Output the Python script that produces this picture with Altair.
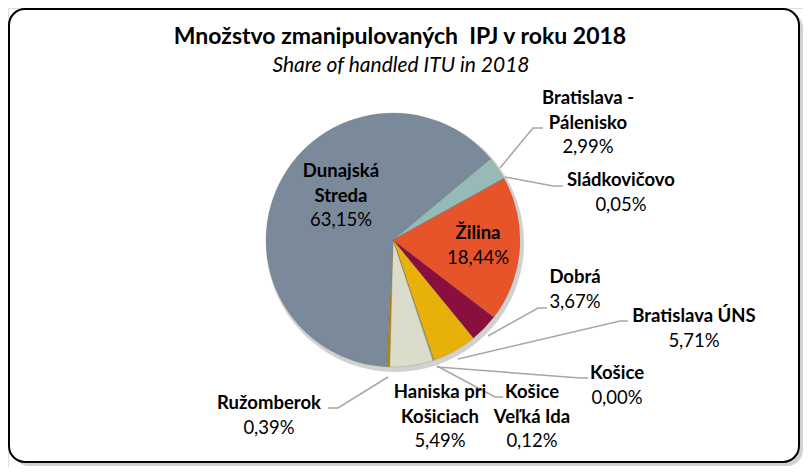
import math
import altair as alt
import pandas as pd

# ---- data ----
names = ["Bratislava - Pálenisko", "Sládkovičovo", "Žilina", "Dobrá", "Bratislava ÚNS",
         "Košice", "Košice Veľká Ida", "Haniska pri Košiciach", "Ružomberok", "Dunajská Streda"]
shares = [2.99, 0.05, 18.44, 3.67, 5.71, 0.00, 0.12, 5.49, 0.39, 63.15]
colors = ["#97BAB6", "#5F8F8A", "#E8542A", "#8A0E3E", "#E8B10A",
          "#7A7A7A", "#A9A9A9", "#DCDCCB", "#B88A00", "#7B8A9A"]
name_lines = [["Bratislava -", "Pálenisko"], ["Sládkovičovo"], ["Žilina"], ["Dobrá"],
              ["Bratislava ÚNS"], ["Košice"], ["Košice", "Veľká Ida"],
              ["Haniska pri", "Košiciach"], ["Ružomberok"], ["Dunajská", "Streda"]]
title = "Množstvo zmanipulovaných \u00a0IPJ v roku 2018"
subtitle = "Share of handled ITU in 2018"

# ---- layout (page px -> view px by subtracting the 8px margin) ----
M = 8
CX, CY, R = 393 - M, 240 - M, 127
START = math.radians(50.2)
label_anchor = {  # centre x, first-line centre y (page px)
    "Bratislava - Pálenisko": (588, 98),
    "Sládkovičovo": (621, 180),
    "Žilina": (478, 233),
    "Dobrá": (575, 277),
    "Bratislava ÚNS": (694, 316),
    "Košice": (617, 373),
    "Košice Veľká Ida": (532, 392),
    "Haniska pri Košiciach": (440, 392),
    "Ružomberok": (269, 403),
    "Dunajská Streda": (341, 171),
}
leaders = {
    "Bratislava - Pálenisko": [(500, 168), (533, 128), (543, 128)],
    "Sládkovičovo": [(505, 177), (553, 186), (563, 186)],
    "Dobrá": [(488, 336), (538, 308), (547, 308)],
    "Bratislava ÚNS": [(458, 359), (620, 321), (628, 321)],
    "Košice": [(437, 367), (580, 378), (588, 378)],
    "Košice Veľká Ida": [(437, 366), (495, 397), (503, 397)],
    "Ružomberok": [(388, 377), (338, 408), (328, 408)],
}
LINE_H = 24.5
FONT = "Lato"

pie_df = pd.DataFrame({"name": names, "share": shares, "idx": list(range(len(names)))})

rows = []
for n, v, lines in zip(names, shares, name_lines):
    x, y = label_anchor[n]
    pct = f"{v:.2f}".replace(".", ",") + "%"
    for i, t in enumerate(lines):
        rows.append({"x": x - M, "y": y - M + i * LINE_H, "t": t, "bold": 1})
    rows.append({"x": x - M, "y": y - M + len(lines) * LINE_H, "t": pct, "bold": 0})
lab_df = pd.DataFrame(rows)

lrows = []
for n, pts in leaders.items():
    for k, (x, y) in enumerate(pts):
        lrows.append({"g": n, "k": k, "x": x - M, "y": y - M})
lead_df = pd.DataFrame(lrows)

W, H = 795, 459

frame_shadow = alt.Chart(pd.DataFrame({"a": [0]})).mark_rect(
    cornerRadius=16, fill="#000000", opacity=0.18
).encode(x=alt.value(5), x2=alt.value(795), y=alt.value(4), y2=alt.value(458))

frame = alt.Chart(pd.DataFrame({"a": [0]})).mark_rect(
    cornerRadius=16, fill="white", stroke="#000000", strokeWidth=2
).encode(x=alt.value(1), x2=alt.value(791), y=alt.value(1), y2=alt.value(454))

theta = alt.Theta("share:Q", stack=True,
                  scale=alt.Scale(range=[START, START + 2 * math.pi]))

pie_shadow = alt.Chart(pie_df).mark_arc(radius=129, color="#9a9a9a", opacity=0.45).encode(
    theta=theta, order=alt.Order("idx:Q"), x=alt.value(CX + 2), y=alt.value(CY + 3))

pie = alt.Chart(pie_df).mark_arc(radius=R, stroke="#555555", strokeWidth=0.3,
                                 strokeOpacity=0.6).encode(
    theta=theta,
    color=alt.Color("name:N", scale=alt.Scale(domain=names, range=colors), legend=None),
    order=alt.Order("idx:Q"),
    x=alt.value(CX), y=alt.value(CY),
)

lines = alt.Chart(lead_df).mark_line(color="#A6A6A6", strokeWidth=1.5).encode(
    x=alt.X("x:Q", scale=None), y=alt.Y("y:Q", scale=None),
    detail="g:N", order="k:Q")

bold_txt = alt.Chart(lab_df).transform_filter("datum.bold == 1").mark_text(
    font=FONT, fontSize=18.5, fontWeight="bold", color="#000000", baseline="middle", align="center"
).encode(x=alt.X("x:Q", scale=None), y=alt.Y("y:Q", scale=None), text="t:N")

norm_txt = alt.Chart(lab_df).transform_filter("datum.bold == 0").mark_text(
    font=FONT, fontSize=18.5, color="#000000", baseline="middle", align="center"
).encode(x=alt.X("x:Q", scale=None), y=alt.Y("y:Q", scale=None), text="t:N")

t1 = alt.Chart(pd.DataFrame({"t": [title]})).mark_text(
    font=FONT, fontSize=23, fontWeight="bold", color="#000000", baseline="middle", align="center"
).encode(x=alt.value(400 - M), y=alt.value(37 - M), text="t:N")

t2 = alt.Chart(pd.DataFrame({"t": [subtitle]})).mark_text(
    font=FONT, fontSize=21, fontStyle="italic", color="#000000", baseline="middle", align="center"
).encode(x=alt.value(401 - M), y=alt.value(66 - M), text="t:N")

chart = alt.layer(frame_shadow, frame, pie_shadow, pie, lines, bold_txt, norm_txt, t1, t2).properties(
    width=W, height=H, padding=0,
    autosize=alt.AutoSizeParams(type="fit", contains="padding"),
).configure_view(stroke=None).configure(background="white")

chart.save("out.html", embed_options={"renderer": "svg", "actions": False})
